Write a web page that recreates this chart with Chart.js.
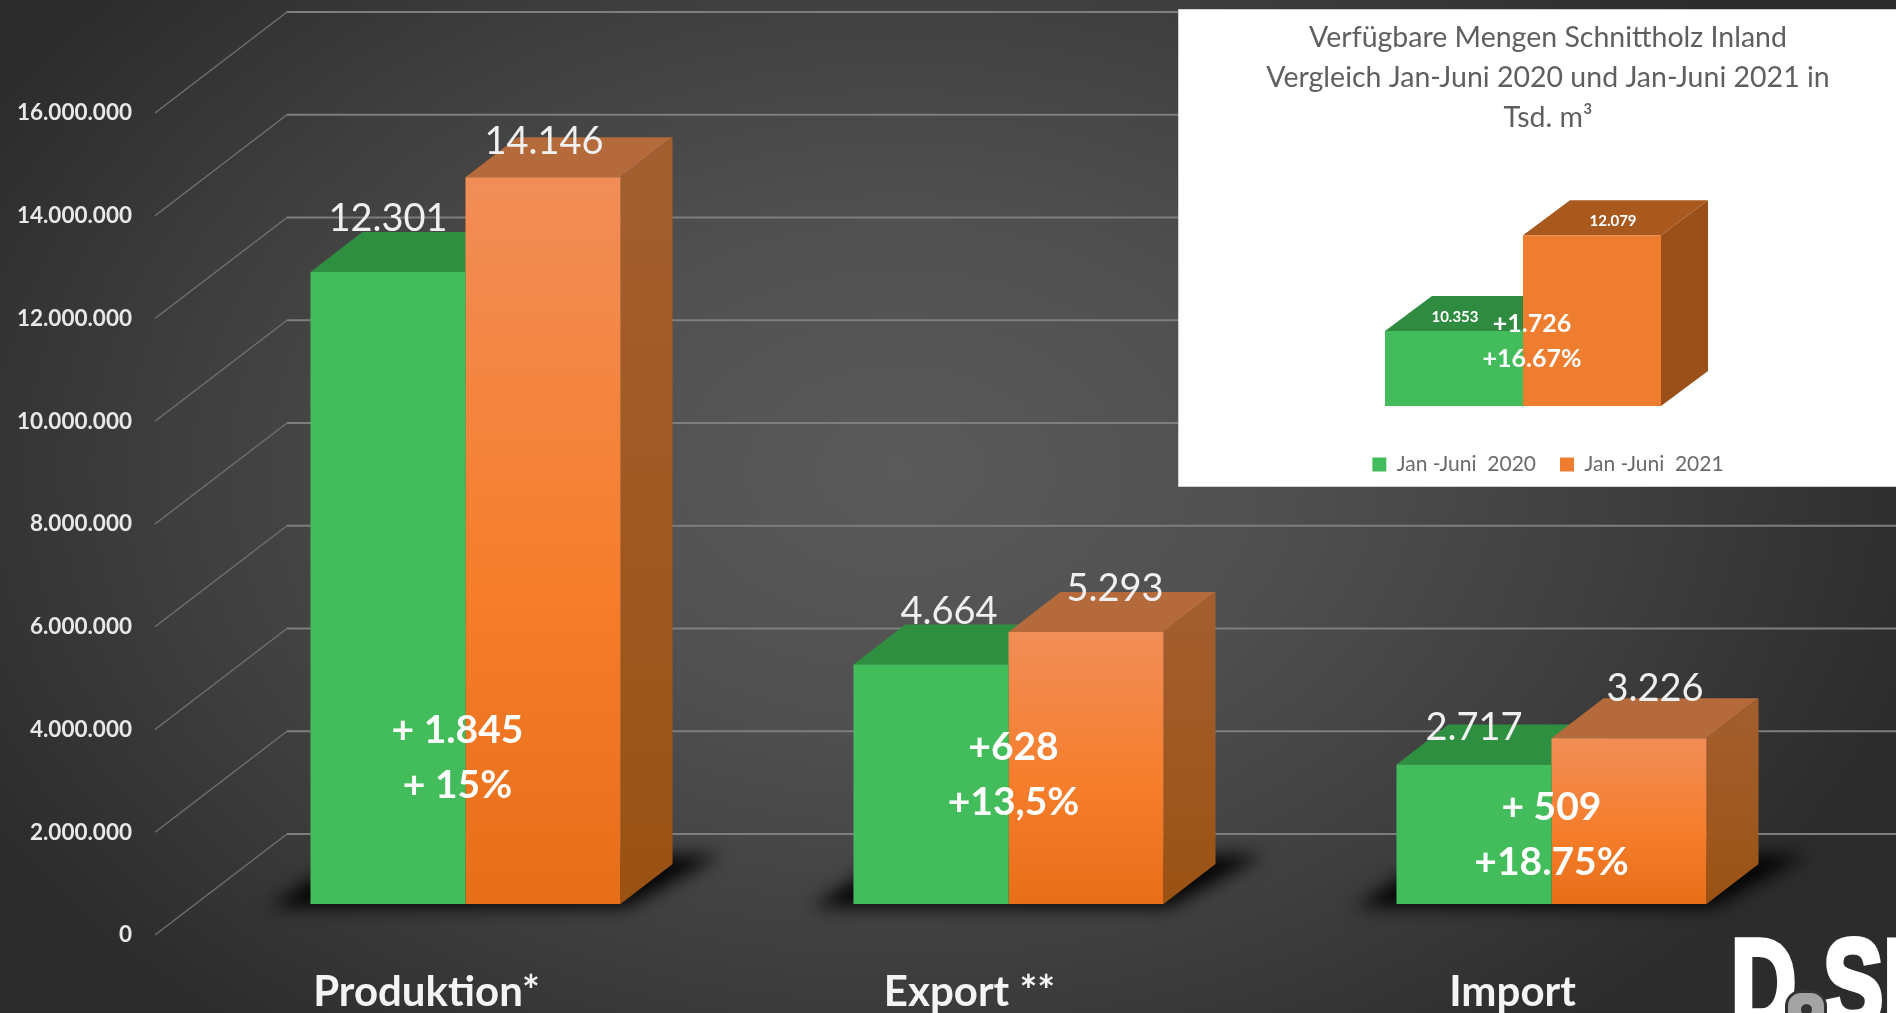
<!DOCTYPE html>
<html lang="de">
<head>
<meta charset="utf-8">
<title>Schnittholz</title>
<script src="https://cdn.jsdelivr.net/npm/chart.js@4"></script>
<style>
html,body{margin:0;padding:0;width:1896px;height:1013px;overflow:hidden;background:#333}
#stage{position:relative;width:1896px;height:1013px;overflow:hidden;
  background:radial-gradient(ellipse 1050px 720px at 900px 470px,#5a5a5a 0%,#505050 35%,#3f3f3f 68%,#2c2c2c 100%)}
#main{position:absolute;left:0;top:0}
#inset{position:absolute;left:1179px;top:10px;background:#fff;outline:1px solid #cfcfcf}
.logo{position:absolute;color:#fff;font:700 122px/1 'Liberation Sans',sans-serif;white-space:nowrap;-webkit-text-stroke:6px #fff;transform-origin:0 0;transform:scaleX(.74)}
#knob{position:absolute;left:1785px;top:990px;width:36px;height:44px;border-radius:16px;background:#a3a3a3;border:3px solid #333}
#knob:after{content:"";position:absolute;left:13px;top:11px;width:11px;height:11px;border-radius:50%;background:#333}
</style>
</head>
<body>
<div id="stage">
  <canvas id="main" width="1896" height="1013"></canvas>
  <canvas id="inset" width="717" height="476"></canvas>
  <div class="logo" style="left:1731px;top:922px">D</div>
  <div class="logo" style="left:1823px;top:922px">SI</div>
  <div id="knob"></div>
</div>
<script>
// ---- main chart data
const categories = ['Produktion*', 'Export **', 'Import'];
const janJuni2020 = [12301000, 4664000, 2717000];
const janJuni2021 = [14146000, 5293000, 3226000];
const deltaAbs = ['+ 1.845', '+628', '+ 509'];
const deltaPct = ['+ 15%', '+13,5%', '+18.75%'];
const axisMin = 0;
const axisMax = 16000000;
const axisStep = 2000000;

// ---- inset chart data
const insetCategories = ['Verfügbare Mengen'];
const insetTitle = ['Verfügbare Mengen Schnittholz Inland', 'Vergleich Jan-Juni 2020 und Jan-Juni 2021 in', 'Tsd. m³'];
const insetSeriesNames = ['Jan -Juni  2020', 'Jan -Juni  2021'];
const inset2020 = [10353];
const inset2021 = [12079];
const insetDeltaAbs = ['+1.726'];
const insetDeltaPct = ['+16.67%'];
const insetBase = 9000;

// ---- layout / style constants
const FONT = 'Lato, "Open Sans", sans-serif';
const fmt = v => v.toLocaleString('de-DE');
const depth = {dx: 52, dy: 40};
const wall = {dx: 132, dy: 101};
const floorShiftPx = 31, unitPx = 102.75 / axisStep;   // bars stand 31px behind the axis' front edge
const floorShift = floorShiftPx / unitPx;
const barLabelShift2020 = [[0, -53], [18, -53], [0, -37]];
const barLabelShift2021 = [[1, -35], [29, -43], [26, -50]];
const deltaShiftX = [-8, 5, 0];
const deltaRise = [174, 157, 97];

function poly(ctx, pts, fill) {
  ctx.beginPath();
  pts.forEach((p, i) => i ? ctx.lineTo(p[0], p[1]) : ctx.moveTo(p[0], p[1]));
  ctx.closePath();
  ctx.fillStyle = fill;
  ctx.fill();
}

function drawBoxes(chart, d, styles) {
  const ctx = chart.ctx;
  chart.data.datasets.forEach((ds, i) => {
    const st = styles[i];
    chart.getDatasetMeta(i).data.forEach(b => {
      const L = b.x - b.width / 2, R = b.x + b.width / 2, T = b.y, B = b.base;
      poly(ctx, [[L, T], [R, T], [R + d.dx, T - d.dy], [L + d.dx, T - d.dy]], st.top);
      const g = ctx.createLinearGradient(0, T - d.dy, 0, B);
      g.addColorStop(0, st.side[0]);
      g.addColorStop(1, st.side[1]);
      poly(ctx, [[R, T], [R + d.dx, T - d.dy], [R + d.dx, B - d.dy], [R, B]], g);
    });
  });
}

const mainPlugin = {
  id: 'mainScene',
  beforeDatasetsDraw(chart) {
    const ctx = chart.ctx, y = chart.scales.y, area = chart.chartArea;
    // wall + side gridlines
    ctx.save();
    y.ticks.forEach(t => {
      const py = y.getPixelForValue(t.value);
      ctx.beginPath();
      ctx.moveTo(area.left, py);
      ctx.lineTo(area.left + wall.dx, py - wall.dy);
      ctx.strokeStyle = '#707070';
      ctx.lineWidth = 1.5;
      ctx.stroke();
      ctx.beginPath();
      ctx.moveTo(area.left + wall.dx, py - wall.dy);
      ctx.lineTo(chart.width, py - wall.dy);
      ctx.strokeStyle = '#7e7e7e';
      ctx.lineWidth = 2;
      ctx.stroke();
    });
    // floor shadows
    const g0 = chart.getDatasetMeta(0).data, g1 = chart.getDatasetMeta(1).data;
    ctx.filter = 'blur(9px)';
    g0.forEach((b, i) => {
      const L = b.x - b.width / 2, R = g1[i].x + g1[i].width / 2, B = b.base;
      poly(ctx, [[L - 42, B + 3], [R + 6, B + 3], [R + depth.dx + 48, B - 49], [L + 40, B - 49]], 'rgba(0,0,0,0.95)');
    });
    ctx.filter = 'none';
    ctx.restore();
    drawBoxes(chart, depth, [
      {top: '#2f8f40', side: ['#2f8f40', '#2f8f40']},
      {top: '#b56a3b', side: ['#a45f30', '#9a5213']}
    ]);
  },
  afterDatasetsDraw(chart) {
    const ctx = chart.ctx;
    ctx.save();
    ctx.textAlign = 'center';
    ctx.textBaseline = 'middle';
    ctx.fillStyle = '#f0f0f0';
    ctx.font = '400 38px ' + FONT;
    [barLabelShift2020, barLabelShift2021].forEach((shift, s) => {
      chart.getDatasetMeta(s).data.forEach((b, i) => {
        const v = chart.data.datasets[s].data[i].y / 1000;
        ctx.fillText(fmt(v), b.x + shift[i][0], b.y + shift[i][1]);
      });
    });
    ctx.fillStyle = '#ffffff';
    ctx.font = '700 39px ' + FONT;
    chart.getDatasetMeta(1).data.forEach((b, i) => {
      const x = b.x - b.width / 2 + deltaShiftX[i];
      ctx.fillText(deltaAbs[i], x, b.base - deltaRise[i]);
      ctx.fillText(deltaPct[i], x, b.base - deltaRise[i] + 55);
    });
    ctx.restore();
  }
};

const orangeFront = c => {
  const yS = c.chart.scales.yBars;
  const top = c.parsed ? yS.getPixelForValue(c.parsed.y) : NaN;
  const bot = yS.getPixelForValue(0);
  if (!Number.isFinite(top) || !Number.isFinite(bot)) return '#f57c2c';
  const g = c.chart.ctx.createLinearGradient(0, top, 0, bot);
  g.addColorStop(0, '#f18d57');
  g.addColorStop(0.55, '#f67e2c');
  g.addColorStop(1, '#e76f19');
  return g;
};

const xy = arr => arr.map((v, i) => ({x: i, y: v}));
const barsXShift = 39 / 543;

new Chart(document.getElementById('main'), {
  type: 'bar',
  plugins: [mainPlugin],
  data: {
    labels: categories,
    datasets: [
      {label: 'Jan -Juni 2020', data: xy(janJuni2020), backgroundColor: '#43bd5b', xAxisID: 'xBars', yAxisID: 'yBars'},
      {label: 'Jan -Juni 2021', data: xy(janJuni2021), backgroundColor: orangeFront, xAxisID: 'xBars', yAxisID: 'yBars'}
    ]
  },
  options: {
    responsive: false,
    animation: false,
    layout: {padding: {top: 113, right: 112, left: 0, bottom: 0}},
    datasets: {bar: {categoryPercentage: 0.571, barPercentage: 1}},
    plugins: {legend: {display: false}, title: {display: false}, tooltip: {enabled: false}},
    scales: {
      x: {
        type: 'category', labels: categories, position: 'bottom', offset: true,
        grid: {display: false, drawTicks: false}, border: {display: false},
        afterFit: s => { s.height = 78; },
        ticks: {color: '#f4f4f4', padding: 32, maxRotation: 0, autoSkip: false, font: {family: FONT, size: 42, weight: '700'}}
      },
      y: {
        type: 'linear', position: 'left', min: axisMin, max: axisMax,
        grid: {display: false, drawTicks: false}, border: {display: false},
        afterFit: s => { s.width = 155; },
        ticks: {stepSize: axisStep, color: '#e8e8e8', padding: 23, callback: v => fmt(v), font: {family: FONT, size: 22.5, weight: '700'}}
      },
      xBars: {
        type: 'linear', display: false, offset: false, min: -0.5 - barsXShift, max: 2.5 - barsXShift,
        afterBuildTicks: s => { s.ticks = [{value: 0}, {value: 1}, {value: 2}]; }
      },
      yBars: {type: 'linear', display: false, min: axisMin - floorShift, max: axisMax - floorShift}
    }
  }
});

// ---- inset
const insetPlugin = {
  id: 'insetScene',
  beforeDatasetsDraw(chart) {
    drawBoxes(chart, {dx: 47, dy: 35}, [
      {top: '#2e8b3f', side: ['#2e8b3f', '#2e8b3f']},
      {top: '#a9581e', side: ['#9a5018', '#9a5018']}
    ]);
  },
  afterDatasetsDraw(chart) {
    const ctx = chart.ctx;
    const g = chart.getDatasetMeta(0).data[0], o = chart.getDatasetMeta(1).data[0];
    ctx.save();
    ctx.textAlign = 'center';
    ctx.textBaseline = 'middle';
    ctx.fillStyle = '#ffffff';
    ctx.font = '700 15px ' + FONT;
    ctx.fillText(fmt(inset2020[0]), g.x + 1, g.y - 14);
    ctx.fillText(fmt(inset2021[0]), o.x + 21, o.y - 14);
    ctx.font = '700 25px ' + FONT;
    const cx = g.x + g.width / 2 + 9;
    ctx.fillText(insetDeltaAbs[0], cx, g.y - 7);
    ctx.fillText(insetDeltaPct[0], cx, g.y + 28);
    ctx.restore();
  }
};

new Chart(document.getElementById('inset'), {
  type: 'bar',
  plugins: [insetPlugin],
  data: {
    labels: insetCategories,
    datasets: [
      {label: insetSeriesNames[0], data: xy(inset2020), base: insetBase, backgroundColor: '#43bd5b', borderWidth: 0, xAxisID: 'xBars', yAxisID: 'yBars'},
      {label: insetSeriesNames[1], data: xy(inset2021), base: insetBase, backgroundColor: '#ee7d2f', borderWidth: 0, xAxisID: 'xBars', yAxisID: 'yBars'}
    ]
  },
  options: {
    responsive: false,
    animation: false,
    layout: {padding: {left: 21, right: 0, top: 0, bottom: 1}},
    datasets: {bar: {categoryPercentage: 0.3966, barPercentage: 1}},
    plugins: {
      tooltip: {enabled: false},
      title: {
        display: true, text: insetTitle, color: '#5f5f5f',
        font: {family: FONT, size: 28.5, weight: '400', lineHeight: 40 / 28.5},
        padding: {top: 8, bottom: 20}
      },
      legend: {
        display: true, position: 'bottom',
        labels: {color: '#6a6a6a', boxWidth: 14, boxHeight: 14, padding: 24, font: {family: FONT, size: 21}}
      }
    },
    scales: {
      xBars: {
        type: 'linear', display: false, offset: false, min: -323 / 696, max: 373 / 696,
        afterBuildTicks: s => { s.ticks = [{value: 0}]; }
      },
      yBars: {type: 'linear', display: false, min: 8565, max: 13475}
    }
  }
});
</script>
</body>
</html>
